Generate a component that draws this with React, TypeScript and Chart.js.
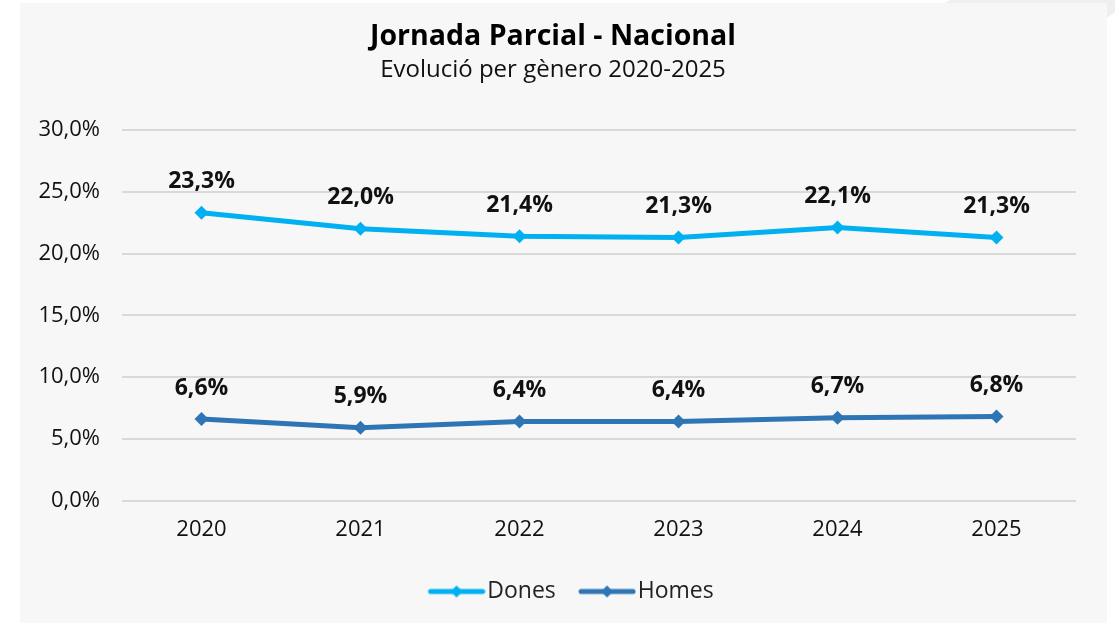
import React, { useEffect, useRef } from "react";
import { Chart, registerables } from "chart.js";

Chart.register(...registerables);

const years = ["2020", "2021", "2022", "2023", "2024", "2025"];
const dones = [23.3, 22.0, 21.4, 21.3, 22.1, 21.3];
const homes = [6.6, 5.9, 6.4, 6.4, 6.7, 6.8];
const seriesNames = ["Dones", "Homes"];
const seriesColors = ["#00b0f0", "#2e75b6"];
const titleText = "Jornada Parcial - Nacional";
const subtitleText = "Evolució per gènero 2020-2025";
const yMin = 0;
const yMax = 30;
const yStep = 5;

const FONT = "'Open Sans', 'Noto Sans', sans-serif";

const fmt = (v: number) => v.toFixed(1).replace(".", ",") + "%";

function legendIcon(color: string): HTMLCanvasElement {
  const c = document.createElement("canvas");
  c.width = 69;
  c.height = 14;
  const ctx = c.getContext("2d")!;
  ctx.strokeStyle = color;
  ctx.lineWidth = 5;
  ctx.lineCap = "round";
  ctx.beginPath();
  ctx.moveTo(14, 7);
  ctx.lineTo(66, 7);
  ctx.stroke();
  ctx.fillStyle = color;
  ctx.beginPath();
  ctx.moveTo(40, 1);
  ctx.lineTo(46, 7);
  ctx.lineTo(40, 13);
  ctx.lineTo(34, 7);
  ctx.closePath();
  ctx.fill();
  return c;
}

const backgroundPlugin = {
  id: "panelBg",
  beforeDraw(chart: any) {
    const { ctx, width, height } = chart;
    ctx.save();
    ctx.fillStyle = "#ffffff";
    ctx.fillRect(0, 0, width, height);
    ctx.fillStyle = "#efefef";
    ctx.beginPath();
    ctx.moveTo(950, 0);
    ctx.lineTo(width, 0);
    ctx.lineTo(width, 12);
    ctx.lineTo(1107, 18);
    ctx.lineTo(1107, 3);
    ctx.lineTo(945, 3);
    ctx.closePath();
    ctx.fill();
    ctx.fillStyle = "#f7f7f7";
    ctx.fillRect(20, 3, 1087, height - 3);
    ctx.restore();
  },
};

const legendShiftPlugin = {
  id: "legendShift",
  afterLayout(chart: any) {
    const lg = chart.legend;
    if (lg) {
      lg.left += 17;
      lg.right += 17;
    }
  },
};

const valueLabelPlugin = {
  id: "valueLabels",
  afterDatasetsDraw(chart: any) {
    const { ctx } = chart;
    ctx.save();
    ctx.font = `bold 23px ${FONT}`;
    ctx.fillStyle = "#111111";
    ctx.textAlign = "center";
    ctx.textBaseline = "middle";
    chart.data.datasets.forEach((ds: any, i: number) => {
      const meta = chart.getDatasetMeta(i);
      meta.data.forEach((pt: any, j: number) => {
        ctx.fillText(fmt(ds.data[j]), pt.x, pt.y - 31);
      });
    });
    ctx.restore();
  },
};

export default function App() {
  const ref = useRef<HTMLCanvasElement>(null);

  useEffect(() => {
    if (!ref.current) return;
    const icons = seriesColors.map(legendIcon);
    const chart = new Chart(ref.current, {
      type: "line",
      data: {
        labels: years,
        datasets: [dones, homes].map((d, i) => ({
          label: seriesNames[i],
          data: d,
          borderColor: seriesColors[i],
          backgroundColor: seriesColors[i],
          borderWidth: 5,
          pointStyle: "rectRot",
          pointRadius: 7,
          pointBackgroundColor: seriesColors[i],
          pointBorderWidth: 0,
          tension: 0,
          fill: false,
        })),
      },
      options: {
        responsive: false,
        animation: false,
        layout: { padding: { left: 30, right: 39, top: 0, bottom: 10 } },
        scales: {
          x: {
            offset: true,
            grid: { display: false, drawTicks: false },
            border: { display: false },
            ticks: { font: { family: FONT, size: 22 }, color: "#111111", padding: 16 },
          },
          y: {
            min: yMin,
            max: yMax,
            grid: { color: "#d9d9d9", lineWidth: 2, drawTicks: false },
            border: { display: false },
            afterFit: (s: any) => {
              s.width = 92;
            },
            ticks: {
              stepSize: yStep,
              padding: 22,
              font: { family: FONT, size: 22 },
              color: "#111111",
              callback: (v: any) => fmt(Number(v)),
            },
          },
        },
        plugins: {
          title: {
            display: true,
            text: titleText,
            font: { family: FONT, size: 28.5, weight: "bold" },
            color: "#000000",
            padding: { top: 20, bottom: 0 },
          },
          subtitle: {
            display: true,
            text: subtitleText,
            font: { family: FONT, size: 24 },
            color: "#111111",
            padding: { top: 1.4, bottom: 45.6 },
          },
          legend: {
            position: "bottom",
            labels: {
              usePointStyle: true,
              pointStyleWidth: 49.5,
              padding: 21,
              font: { family: FONT, size: 23 },
              color: "#222222",
              generateLabels: (ch: any) =>
                ch.data.datasets.map((ds: any, i: number) => ({
                  text: ds.label,
                  pointStyle: icons[i],
                  fillStyle: seriesColors[i],
                  strokeStyle: seriesColors[i],
                  lineWidth: 0,
                  hidden: false,
                  datasetIndex: i,
                  fontColor: "#222222",
                })),
            },
          },
          tooltip: { enabled: false },
        },
      },
      plugins: [backgroundPlugin, legendShiftPlugin, valueLabelPlugin],
    });
    return () => chart.destroy();
  }, []);

  return (
    <div style={{ position: "absolute", left: 0, top: 0, width: 1115, height: 623 }}>
      <canvas ref={ref} width={1115} height={623} />
    </div>
  );
}
